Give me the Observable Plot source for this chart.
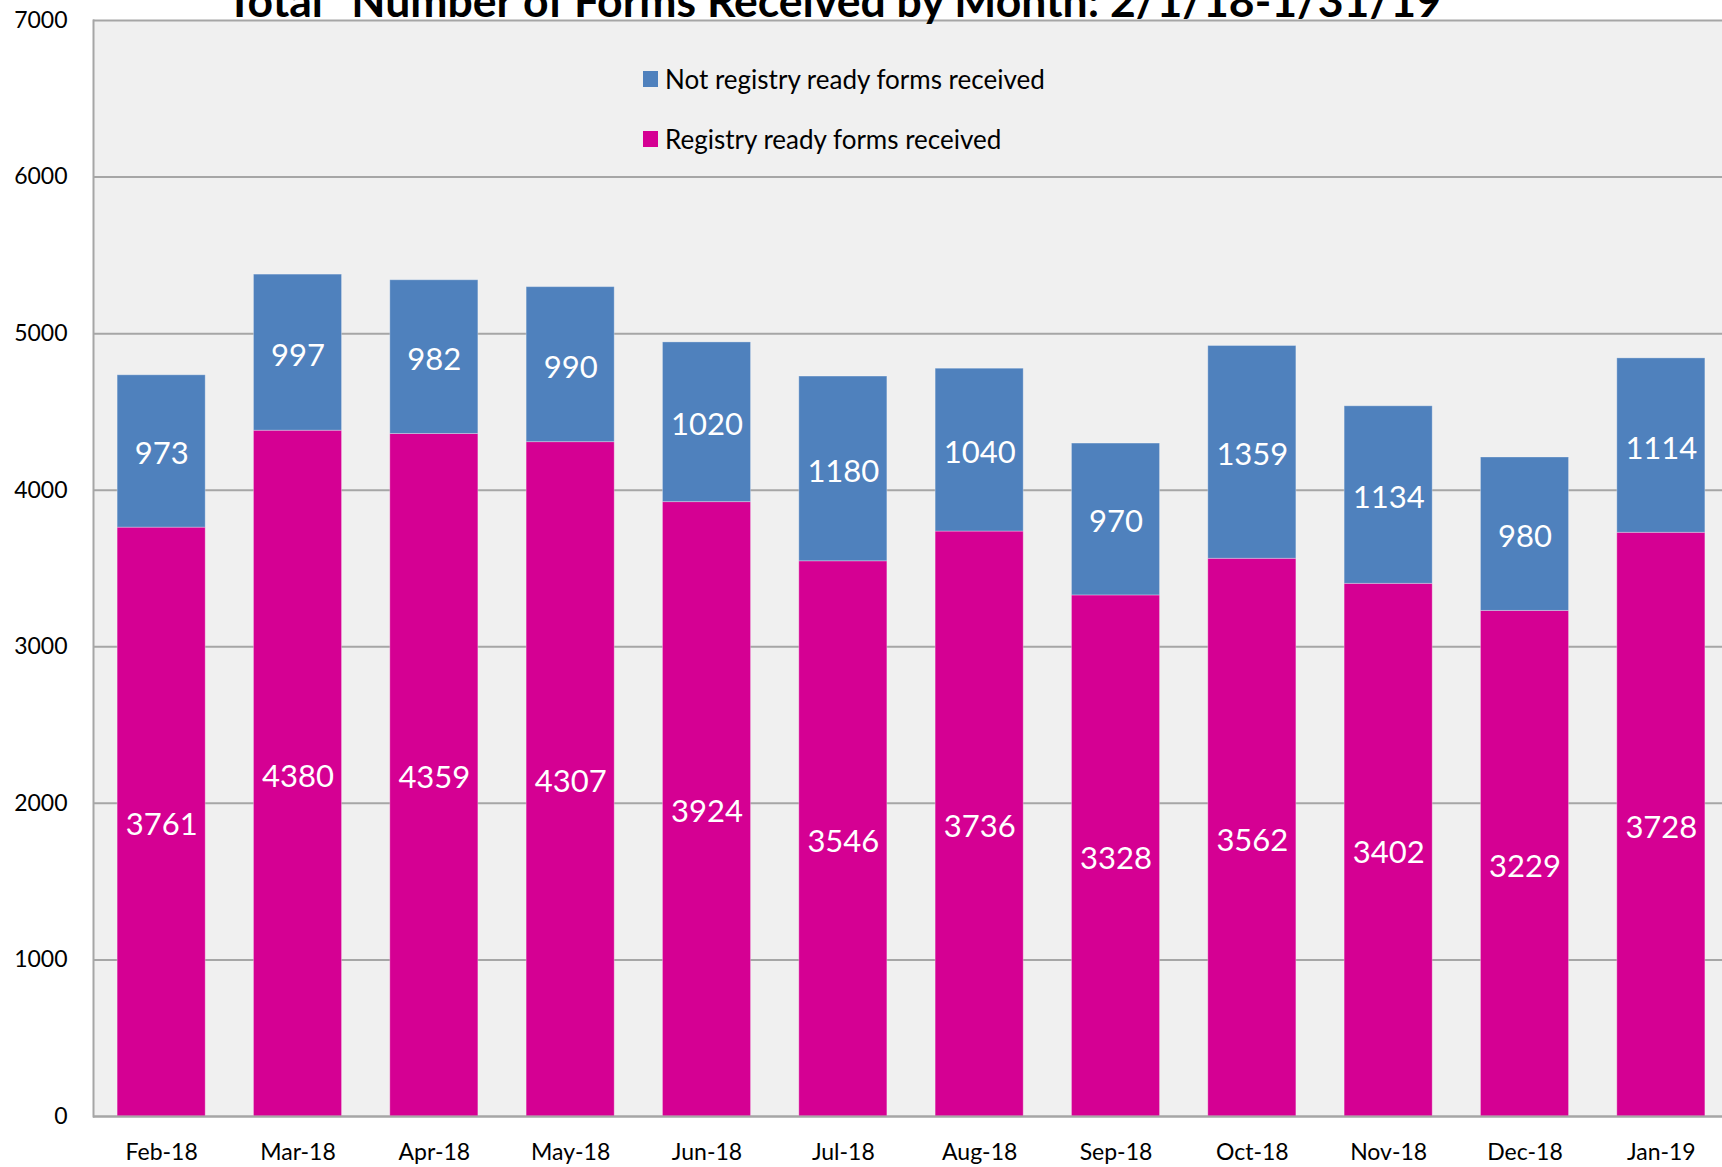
<!DOCTYPE html>
<html>
<head>
<meta charset="utf-8">
<script src="https://cdn.jsdelivr.net/npm/d3@7"></script>
<script src="https://cdn.jsdelivr.net/npm/@observablehq/plot@0.6"></script>
<style>
  body { margin: 0; background: #ffffff; }
  #wrap { position: relative; width: 1722px; height: 1167px; overflow: hidden; font-family: Lato, sans-serif; }
  #legend { position: absolute; left: 643px; top: 0; }
  .item { position: absolute; left: 0; white-space: nowrap; display: flex; align-items: center; font-size: 26px; color: #000; height: 30px; }
  .sw { width: 15px; height: 16px; margin-right: 7px; flex: none; }
</style>
</head>
<body>
<div id="wrap"><div id="legend"></div></div>
<script>
const months = ["Feb-18","Mar-18","Apr-18","May-18","Jun-18","Jul-18","Aug-18","Sep-18","Oct-18","Nov-18","Dec-18","Jan-19"];
const registryReady = [3761, 4380, 4359, 4307, 3924, 3546, 3736, 3328, 3562, 3402, 3229, 3728];
const notRegistryReady = [973, 997, 982, 990, 1020, 1180, 1040, 970, 1359, 1134, 980, 1114];
const seriesNames = ["Not registry ready forms received", "Registry ready forms received"];
const seriesColors = ["#4f81bd", "#d50093"];
const yTicks = [0, 1000, 2000, 3000, 4000, 5000, 6000, 7000];
const titleText = 'Total "Number of Forms Received by Month: 2/1/18-1/31/19';

const data = months.flatMap((m, i) => [
  {month: m, series: seriesNames[1], value: registryReady[i]},
  {month: m, series: seriesNames[0], value: notRegistryReady[i]}
]);

const chart = Plot.plot({
  width: 1722,
  height: 1167,
  marginLeft: 93,
  marginRight: 0,
  marginTop: 20,
  marginBottom: 51,
  style: {fontFamily: "Lato, sans-serif", fontSize: "23px", color: "#000", background: "transparent"},
  x: {domain: months, range: [93, 1729], paddingInner: 0.354, paddingOuter: 0.177, round: false, label: null},
  y: {domain: [0, 7000], label: null},
  color: {domain: seriesNames, range: seriesColors},
  marks: [
    Plot.frame({fill: "#f0f0f0", stroke: null}),
    Plot.gridY(yTicks, {stroke: "#a6a6a6", strokeOpacity: 1, strokeWidth: 2}),
    Plot.barY(data, Plot.stackY({x: "month", y: "value", fill: "series", stroke: "#ffffff", strokeOpacity: 0.3, strokeWidth: 1})),
    Plot.text(data, Plot.stackY({x: "month", y: "value", text: d => String(d.value), fill: "#ffffff", fontSize: 31, dy: 3})),
    Plot.frame({anchor: "left", stroke: "#a6a6a6", strokeWidth: 2}),
    Plot.ruleY([0], {stroke: "#a6a6a6", strokeWidth: 2}),
    Plot.axisY({ticks: yTicks, tickSize: 0, tickPadding: 26, fontSize: 23, label: null, tickFormat: d => String(d)}),
    Plot.axisX({tickSize: 0, tickPadding: 27, fontSize: 23, label: null}),
    Plot.text([titleText], {frameAnchor: "top", dx: -74, dy: -18, lineAnchor: "middle", fontSize: 44.5, fontWeight: "bold", fill: "#000"})
  ]
});
document.getElementById("wrap").prepend(chart);
chart.style.position = "absolute";
chart.style.left = "0";
chart.style.top = "0";

const legend = document.getElementById("legend");
const legendTops = [64, 124];
seriesNames.forEach((name, i) => {
  const it = document.createElement("div");
  it.className = "item";
  it.style.top = legendTops[i] + "px";
  const sw = document.createElement("span");
  sw.className = "sw";
  sw.style.background = seriesColors[i];
  const tx = document.createElement("span");
  tx.textContent = name;
  it.append(sw, tx);
  legend.append(it);
});
</script>
</body>
</html>
